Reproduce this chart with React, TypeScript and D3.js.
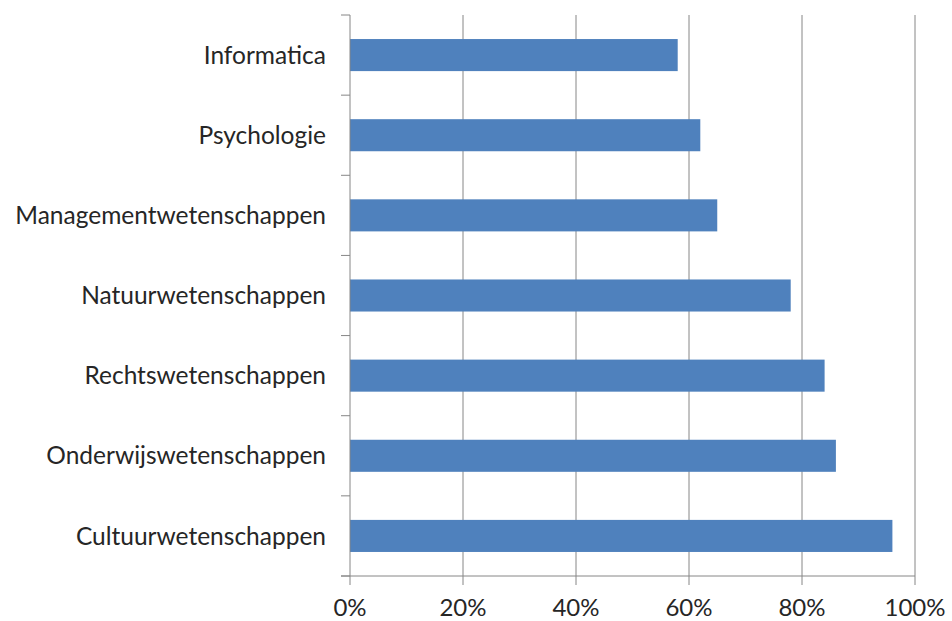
import React from 'react'
import * as d3 from 'd3'

const categories = [
  'Informatica',
  'Psychologie',
  'Managementwetenschappen',
  'Natuurwetenschappen',
  'Rechtswetenschappen',
  'Onderwijswetenschappen',
  'Cultuurwetenschappen',
]
const values = [0.58, 0.62, 0.65, 0.78, 0.84, 0.86, 0.96]
const xTicks = [0, 0.2, 0.4, 0.6, 0.8, 1]

const width = 952
const height = 621
const margin = { top: 15, right: 37, bottom: 45, left: 350 }
const font = 'Lato, "Open Sans", sans-serif'

export default function App() {
  const x = d3.scaleLinear().domain([0, 1]).range([margin.left, width - margin.right])
  const y = d3.scaleBand().domain(categories).range([margin.top, height - margin.bottom]).paddingInner(0.6).paddingOuter(0.3)
  const bandEdges = d3.range(categories.length + 1).map(i => margin.top + (i * (height - margin.bottom - margin.top)) / categories.length)
  const fmt = d3.format('.0%')
  const bottom = height - margin.bottom

  return (
    <svg width={width} height={height} style={{ position: 'absolute', left: 0, top: 0 }}>
      <rect width={width} height={height} fill="#fff" />
      {xTicks.slice(1).map(t => (
        <line key={t} x1={x(t)} x2={x(t)} y1={margin.top} y2={bottom} stroke="#868686" strokeWidth={1} />
      ))}
      {categories.map((c, i) => (
        <rect key={c} x={x(0)} y={y(c)} width={x(values[i]) - x(0)} height={y.bandwidth()} fill="#4F81BD" />
      ))}
      <line x1={x(0)} x2={x(0)} y1={margin.top} y2={bottom} stroke="#868686" />
      {bandEdges.map((e, i) => (
        <line key={i} x1={x(0) - 9} x2={x(0)} y1={e} y2={e} stroke="#868686" />
      ))}
      <line x1={x(0) - 9} x2={x(1)} y1={bottom} y2={bottom} stroke="#868686" />
      {xTicks.map(t => (
        <g key={t}>
          <line x1={x(t)} x2={x(t)} y1={bottom} y2={bottom + 9} stroke="#868686" />
          <text x={x(t)} y={bottom + 40} textAnchor="middle" fontFamily={font} fontSize={24} fill="#262626">
            {fmt(t)}
          </text>
        </g>
      ))}
      {categories.map(c => (
        <text key={c} x={x(0) - 24} y={(y(c) ?? 0) + y.bandwidth() / 2} dy="0.35em" textAnchor="end" fontFamily={font} fontSize={24.5} fill="#262626">
          {c}
        </text>
      ))}
    </svg>
  )
}
